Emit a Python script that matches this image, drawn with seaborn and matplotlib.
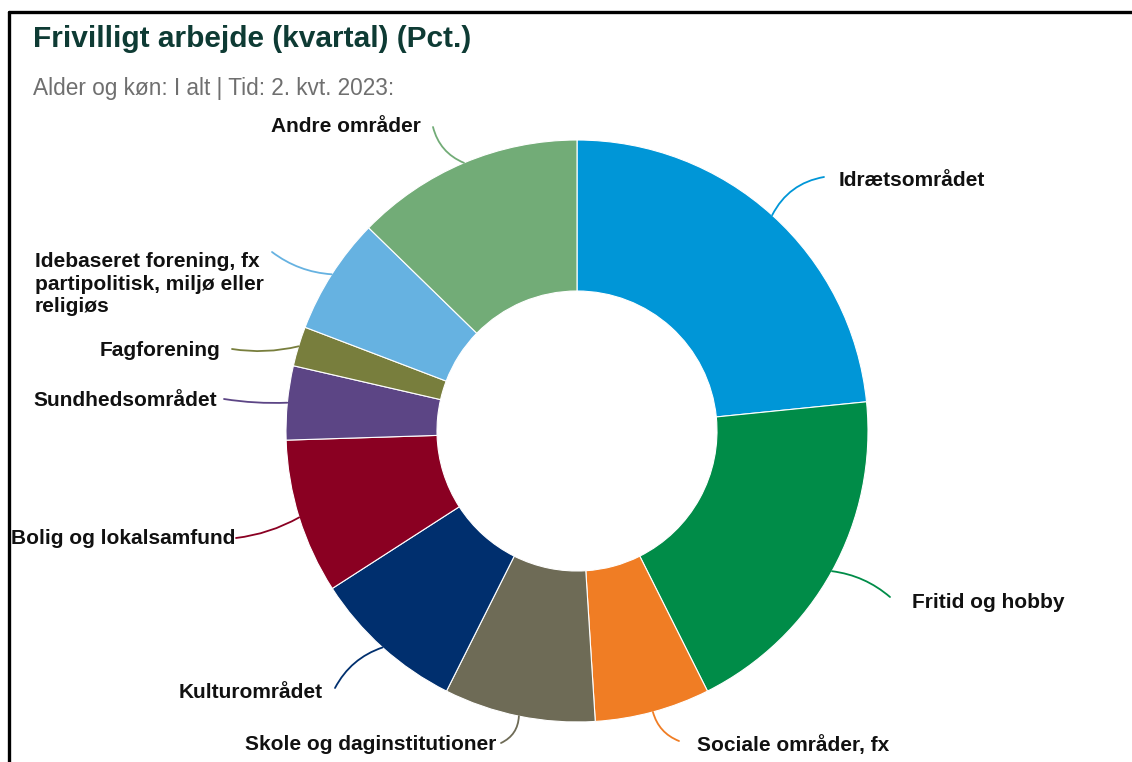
import numpy as np
import matplotlib
matplotlib.use("Agg")
import matplotlib.pyplot as plt
import seaborn as sns
from matplotlib.lines import Line2D

# ---- data ----
categories = [
    "Idrætsområdet",
    "Fritid og hobby",
    "Sociale områder, fx",
    "Skole og daginstitutioner",
    "Kulturområdet",
    "Bolig og lokalsamfund",
    "Sundhedsområdet",
    "Fagforening",
    "Idebaseret forening, fx\npartipolitisk, miljø eller\nreligiøs",
    "Andre områder",
]
values = [23.4, 19.2, 6.4, 8.4, 8.5, 8.6, 4.1, 2.2, 6.5, 12.7]
colors = ["#0096D7", "#008C48", "#F07D24", "#6E6B56", "#002F6E",
          "#8A0022", "#5C4585", "#787E3D", "#66B2E1", "#72AC77"]

title = "Frivilligt arbejde (kvartal) (Pct.)"
subtitle = "Alder og køn: I alt | Tid: 2. kvt. 2023:"

# ---- layout (pixel positions, y measured from top) ----
W, H = 1132, 762
CX, CY, R, HOLE = 577, 431, 291, 140
label_pos = [(839, 180, "left"), (912, 603, "left"), (697, 745, "left"),
             (496, 745, "right"), (323, 693, "right"), (235, 539, "right"),
             (217, 400, "right"), (220, 351, "right"), (35, 284, "left"),
             (421, 127, "right")]
conn_start = [(824, 177), (890, 597), (679, 741), (501, 743), (335, 688),
              (236, 538), (224, 399), (232, 349), (272, 252), (433, 127)]
conn_rad = [0.25, 0.15, -0.25, 0.3, -0.2, 0.1, 0.05, 0.1, 0.15, 0.25]

sns.set_theme(style="white")
plt.rcParams["font.family"] = ["Liberation Sans", "DejaVu Sans"]

fig = plt.figure(figsize=(W / 100, H / 100), dpi=100)
fig.patch.set_facecolor("white")
ax = fig.add_axes([0, 0, 1, 1])

def Y(y):
    return H - y

ax.pie(values, colors=colors, startangle=90, counterclock=False,
       radius=R, center=(CX, Y(CY)),
       wedgeprops=dict(width=R - HOLE, edgecolor="white", linewidth=0.8))
ax.set_xlim(0, W)
ax.set_ylim(0, H)
ax.set_aspect("equal")
ax.axis("off")

# connectors and labels
cum = np.cumsum([0] + values[:-1])
total = float(sum(values))
for i, (lab, v) in enumerate(zip(categories, values)):
    mid = (cum[i] + v / 2) / total * 2 * np.pi
    px = CX + R * np.sin(mid)
    py = Y(CY) + R * np.cos(mid)
    sx, sy = conn_start[i]
    ax.annotate("", xy=(px, py), xytext=(sx, Y(sy)),
                arrowprops=dict(arrowstyle="-", color=colors[i], lw=1.3,
                                shrinkA=0, shrinkB=0,
                                connectionstyle=f"arc3,rad={conn_rad[i]}"))
    lx, ly, ha = label_pos[i]
    ax.text(lx, Y(ly), lab, ha=ha, va="center", fontsize=15,
            fontweight="bold", color="#111111", linespacing=1.25,
            multialignment="left")

# title and subtitle
ax.text(33, Y(47), title, ha="left", va="baseline", fontsize=21.5,
        fontweight="bold", color="#0E3B34")
ax.text(33, Y(95), subtitle, ha="left", va="baseline", fontsize=16.3,
        color="#6F6F6F")

# frame of the screenshot
fig.add_artist(Line2D([9 / W, 9 / W], [0, 1 - 12 / H], color="black",
                      lw=2.4, transform=fig.transFigure))
fig.add_artist(Line2D([9 / W, 1], [1 - 12 / H, 1 - 12 / H], color="black",
                      lw=2.4, transform=fig.transFigure))

fig.savefig("out.png", dpi=100, facecolor="white")
